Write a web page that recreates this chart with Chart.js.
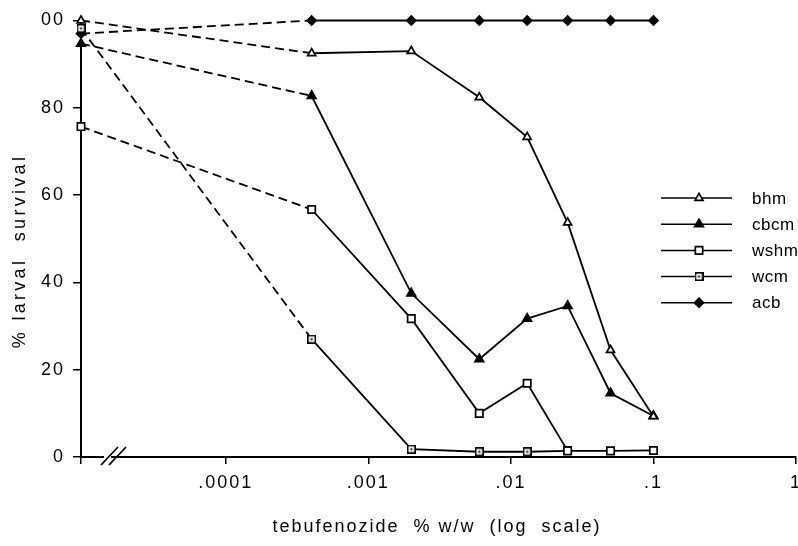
<!DOCTYPE html>
<html>
<head>
<meta charset="utf-8">
<script src="https://cdn.jsdelivr.net/npm/chart.js@4/dist/chart.umd.min.js"></script>
<style>
  body { margin: 0; background: #fff; }
  #chart { display: block; }
</style>
</head>
<body>
<canvas id="chart" width="798" height="546"></canvas>
<script>
// control (untreated) plotted at the left end of the log axis
const X_MIN = Math.pow(10, -5.016);

const doses = [X_MIN, 0.0004, 0.002, 0.006, 0.013, 0.025, 0.05, 0.1];
const bhm  = [100, 92.5, 93, 82.4, 73.3, 53.7, 24.5, 9.3];
const cbcm = [94.7, 82.7, 37.5, 22.4, 31.7, 34.6, 14.6, 9.4];
const wshm = [75.7, 56.7, 31.7, 10, 16.9, 1.4, 1.4, 1.5];
const wcm  = [98.2, 27, 1.8, 1.2, 1.2, 1.4];
const acb  = [97, 100, 100, 100, 100, 100, 100, 100];

const xTickValues = [X_MIN, 0.0001, 0.001, 0.01, 0.1, 1];
const xTickLabels = ['', '.0001', '.001', '.01', '.1', '1'];
const yTickLabels = ['0', '20', '40', '60', '80', '00'];

const FONT = '"Liberation Sans", Arial, Helvetica, sans-serif';

function pts(vals) {
  return vals.map((v, i) => ({ x: doses[i], y: v }));
}

// square with a dot in the middle (wcm)
function dotSquare() {
  const c = document.createElement('canvas');
  c.width = 9; c.height = 9;
  const g = c.getContext('2d');
  g.fillStyle = '#fff';
  g.fillRect(0, 0, 9, 9);
  g.strokeStyle = '#000';
  g.lineWidth = 1.6;
  g.strokeRect(0.8, 0.8, 7.4, 7.4);
  g.fillStyle = '#000';
  g.fillRect(3.5, 3.5, 2, 2);
  return c;
}

const dash = { borderDash: c => c.p0DataIndex === 0 ? [9, 5] : undefined };

function series(label, vals, style, fill, radius) {
  return {
    label,
    data: pts(vals),
    borderColor: '#000',
    borderWidth: 1.8,
    pointStyle: style,
    pointRadius: radius,
    pointBackgroundColor: fill,
    pointBorderColor: '#000',
    pointBorderWidth: 1.7,
    segment: dash,
    tension: 0,
    fill: false
  };
}

const datasets = [
  series('bhm', bhm, 'triangle', '#fff', 4.6),
  series('cbcm', cbcm, 'triangle', '#000', 5),
  series('wshm', wshm, 'rect', '#fff', 5.2),
  series('wcm', wcm, dotSquare(), '#fff', 5),
  series('acb', acb, 'rectRot', '#000', 4.5)
];

const extras = {
  id: 'extras',
  beforeDraw(chart) {
    chart.ctx.letterSpacing = '2px';
  },
  afterDraw(chart) {
    const ctx = chart.ctx;
    const a = chart.chartArea;
    ctx.save();
    // axis break on the x axis
    const bx = a.left + 21, by = a.bottom;
    ctx.fillStyle = '#fff';
    ctx.fillRect(bx + 2, by - 2, 7, 4);
    ctx.strokeStyle = '#000';
    ctx.lineWidth = 1.8;
    ctx.beginPath();
    ctx.moveTo(bx - 1, by + 8); ctx.lineTo(bx + 16, by - 10);
    ctx.moveTo(bx + 7, by + 8); ctx.lineTo(bx + 24, by - 10);
    ctx.stroke();

    // axis titles
    ctx.fillStyle = '#000';
    ctx.font = '18px ' + FONT;
    ctx.letterSpacing = '2px';
    ctx.textAlign = 'center';
    ctx.textBaseline = 'middle';
    ctx.fillText('tebufenozide  % w/w  (log  scale)', 437, 527);
    ctx.save();
    ctx.translate(20, 251);
    ctx.rotate(-Math.PI / 2);
    ctx.letterSpacing = '3.3px';
    ctx.fillText('% larval  survival', 0, 0);
    ctx.restore();

    // legend: line with marker, then label
    ctx.letterSpacing = '0.5px';
    ctx.font = '17px ' + FONT;
    ctx.textAlign = 'left';
    chart.data.datasets.forEach((ds, i) => {
      const y = 198 + i * 26.2;
      ctx.strokeStyle = '#000';
      ctx.lineWidth = 1.5;
      ctx.beginPath();
      ctx.moveTo(661, y); ctx.lineTo(732, y);
      ctx.stroke();
      ctx.fillStyle = ds.pointBackgroundColor;
      ctx.lineWidth = ds.pointBorderWidth;
      Chart.helpers.drawPoint(ctx, {
        pointStyle: ds.pointStyle, radius: ds.pointRadius, rotation: 0, borderWidth: ds.pointBorderWidth
      }, 699, y);
      ctx.fillStyle = '#000';
      ctx.fillText(ds.label, 752, y + 1);
    });
    ctx.restore();
  }
};

new Chart(document.getElementById('chart'), {
  type: 'line',
  data: { datasets },
  plugins: [extras],
  options: {
    responsive: false,
    animation: false,
    clip: false,
    layout: { autoPadding: false, padding: { left: 0, right: 2, top: 20.5, bottom: 0 } },
    plugins: { legend: { display: false }, tooltip: { enabled: false } },
    scales: {
      x: {
        type: 'logarithmic',
        min: X_MIN,
        max: 1,
        afterBuildTicks: s => { s.ticks = xTickValues.map(v => ({ value: v })); },
        afterFit: s => { s.height = 89; s.paddingLeft = 0; s.paddingRight = 0; },
        ticks: {
          autoSkip: false, maxRotation: 0, padding: 8, color: '#000',
          font: { family: FONT, size: 18 },
          callback: (v, i) => xTickLabels[i]
        },
        grid: { drawOnChartArea: false, tickLength: 7, color: '#000', lineWidth: 1.5 },
        border: { color: '#000', width: 2 }
      },
      y: {
        min: 0,
        max: 100,
        afterFit: s => { s.width = 81; s.paddingTop = 0; s.paddingBottom = 0; },
        ticks: {
          stepSize: 20, padding: 8, color: '#000',
          font: { family: FONT, size: 18 },
          callback: (v, i) => yTickLabels[i]
        },
        grid: { drawOnChartArea: false, tickLength: 8, color: '#000', lineWidth: 1.5 },
        border: { color: '#000', width: 2 }
      }
    }
  }
});
</script>
</body>
</html>
